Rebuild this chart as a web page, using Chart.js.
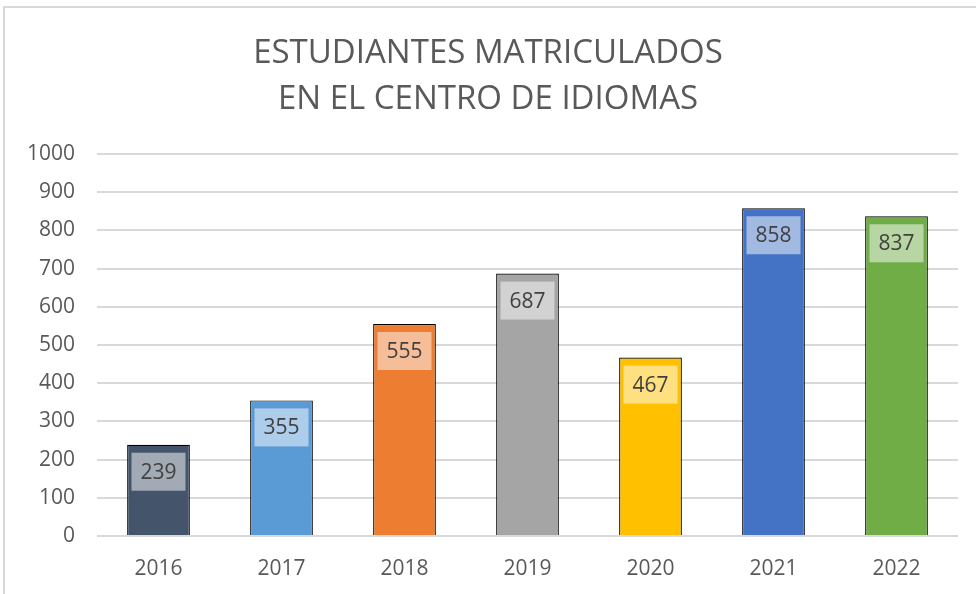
<!DOCTYPE html>
<html>
<head>
<meta charset="utf-8">
<script src="https://cdn.jsdelivr.net/npm/chart.js@4"></script>
<style>
  html, body { margin: 0; padding: 0; background: #fff; }
  #wrap { position: relative; width: 976px; height: 594px; overflow: hidden; }
  #frame { position: absolute; left: 3px; top: 6px; width: 1000px; height: 700px;
           border-top: 2px solid #d9d9d9; border-left: 2px solid #d9d9d9; box-sizing: border-box; }
  canvas { position: absolute; left: 0; top: 0; }
</style>
</head>
<body>
<div id="wrap">
  <div id="frame"></div>
  <canvas id="c" width="976" height="594"></canvas>
</div>
<script>
const titleLines = ["ESTUDIANTES MATRICULADOS", "EN EL CENTRO DE IDIOMAS"];
const categories = ["2016", "2017", "2018", "2019", "2020", "2021", "2022"];
const students = [239, 355, 555, 687, 467, 858, 837];
const barColors = ["#44546A", "#5B9BD5", "#ED7D31", "#A5A5A5", "#FFC000", "#4472C4", "#70AD47"];
const yTicks = [0, 100, 200, 300, 400, 500, 600, 700, 800, 900, 1000];

const FONT = "'Open Sans', sans-serif";

const labelPlugin = {
  id: 'innerLabels',
  afterDatasetsDraw(chart) {
    const ctx = chart.ctx;
    const meta = chart.getDatasetMeta(0);
    ctx.save();
    ctx.font = "21px " + FONT;
    ctx.textAlign = 'center';
    ctx.textBaseline = 'middle';
    meta.data.forEach((bar, i) => {
      const w = 54, h = 38;
      const x = bar.x - w / 2;
      const y = bar.y + 8;
      ctx.fillStyle = 'rgba(255,255,255,0.5)';
      ctx.fillRect(x, y, w, h);
      ctx.fillStyle = '#404040';
      ctx.fillText(String(students[i]), bar.x, y + h / 2 + 1);
    });
    ctx.restore();
  }
};

new Chart(document.getElementById('c'), {
  type: 'bar',
  data: {
    labels: categories,
    datasets: [{
      data: students,
      backgroundColor: barColors,
      borderColor: '#000000',
      borderWidth: 1.2,
      categoryPercentage: 1,
      barPercentage: 0.51
    }]
  },
  options: {
    responsive: false,
    animation: false,
    layout: { padding: { left: 18, right: 18, top: 0, bottom: 0 } },
    plugins: {
      legend: { display: false },
      tooltip: { enabled: false },
      title: {
        display: true,
        text: titleLines,
        color: '#595959',
        font: { family: FONT, size: 33, weight: 'normal', lineHeight: 1.394 },
        padding: { top: 31, bottom: 31 }
      }
    },
    scales: {
      x: {
        grid: { display: false, drawTicks: false },
        border: { display: false },
        ticks: { color: '#595959', font: { family: FONT, size: 21 }, padding: 20 },
        afterFit(scale) { scale.height = 58; }
      },
      y: {
        min: 0,
        max: 1000,
        afterBuildTicks(scale) { scale.ticks = yTicks.map(v => ({ value: v })); },
        grid: { color: '#d9d9d9', lineWidth: 2, drawTicks: false },
        border: { display: false },
        ticks: { color: '#595959', font: { family: FONT, size: 21 }, padding: 22,
                 callback: (v) => String(v) },
        afterFit(scale) { scale.width = 79; }
      }
    }
  },
  plugins: [labelPlugin]
});
</script>
</body>
</html>
